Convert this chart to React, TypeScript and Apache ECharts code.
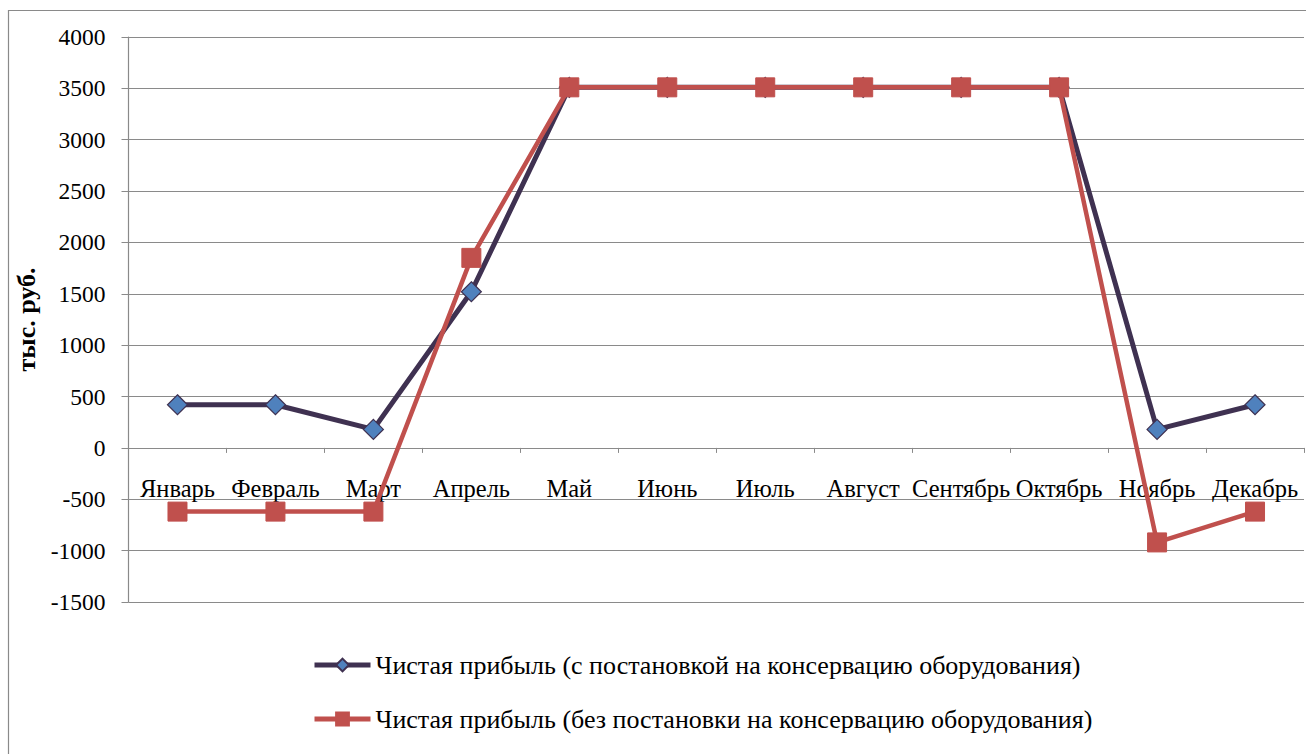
import React, { useEffect, useRef } from "react";
import * as echarts from "echarts";

const months = ["Январь", "Февраль", "Март", "Апрель", "Май", "Июнь", "Июль", "Август", "Сентябрь", "Октябрь", "Ноябрь", "Декабрь"];
const withConservation = [420, 420, 180, 1520, 3510, 3510, 3510, 3510, 3510, 3510, 180, 420];
const withoutConservation = [-620, -620, -620, 1850, 3510, 3510, 3510, 3510, 3510, 3510, -920, -620];
const seriesNames = [
  "Чистая прибыль (с постановкой на консервацию оборудования)",
  "Чистая прибыль (без постановки на консервацию оборудования)",
];
const yName = "тыс. руб.";

const FONT = "Liberation Serif";

export default function App() {
  const ref = useRef<HTMLDivElement>(null);
  useEffect(() => {
    const chart = echarts.init(ref.current!, null, { renderer: "svg" });
    chart.setOption({
      animation: false,
      backgroundColor: "#ffffff",
      textStyle: { fontFamily: FONT, color: "#000" },
      graphic: [
        {
          type: "rect",
          shape: { x: 8.5, y: 10.5, width: 1400, height: 800 },
          style: { fill: "none", stroke: "#8a8a8a", lineWidth: 1.2 },
          silent: true,
        },
      ],
      grid: { left: 128.5, right: 2, top: 37, bottom: 152, containLabel: false },
      legend: {
        orient: "vertical",
        left: 307,
        top: 647,
        itemGap: 28,
        itemWidth: 56,
        itemHeight: 16,
        lineStyle: { width: 5 },
        textStyle: { fontFamily: FONT, fontSize: 26, color: "#000" },
        data: seriesNames,
      },
      xAxis: {
        type: "category",
        data: months,
        boundaryGap: true,
        axisLine: { onZero: true, lineStyle: { color: "#8a8a8a", width: 1.2 } },
        axisTick: { show: true, length: 5, inside: false, lineStyle: { color: "#8a8a8a" } },
        axisLabel: { fontFamily: FONT, fontSize: 24.5, color: "#000", margin: -126, interval: 0 },
        splitLine: { show: false },
      },
      yAxis: {
        type: "value",
        min: -1500,
        max: 4000,
        interval: 500,
        name: yName,
        nameLocation: "middle",
        nameGap: 86,
        nameRotate: 90,
        nameTextStyle: { fontFamily: FONT, fontSize: 26, fontWeight: "bold", color: "#000" },
        axisLine: { show: true, lineStyle: { color: "#8a8a8a", width: 1.2 } },
        axisTick: { show: true, length: 7, lineStyle: { color: "#8a8a8a" } },
        axisLabel: {
          fontFamily: FONT,
          fontSize: 23.5,
          color: "#000",
          margin: 23,
          formatter: (v: number) => String(v),
        },
        splitLine: { show: true, lineStyle: { color: "#8a8a8a", width: 1.2 } },
      },
      series: [
        {
          name: seriesNames[0],
          type: "line",
          data: withConservation,
          symbol: "diamond",
          symbolSize: 20,
          lineStyle: { color: "#3F3151", width: 5 },
          itemStyle: { color: "#4F81BD", borderColor: "#3F3151", borderWidth: 1.2 },
          z: 2,
        },
        {
          name: seriesNames[1],
          type: "line",
          data: withoutConservation,
          symbol: "rect",
          symbolSize: 19,
          lineStyle: { color: "#C0504D", width: 4.5 },
          itemStyle: { color: "#C0504D", borderColor: "#C0504D", borderWidth: 1 },
          z: 3,
        },
      ],
    });
    return () => chart.dispose();
  }, []);
  return (
    <div
      ref={ref}
      style={{ position: "fixed", left: 0, top: 0, width: 1306, height: 754 }}
    />
  );
}
